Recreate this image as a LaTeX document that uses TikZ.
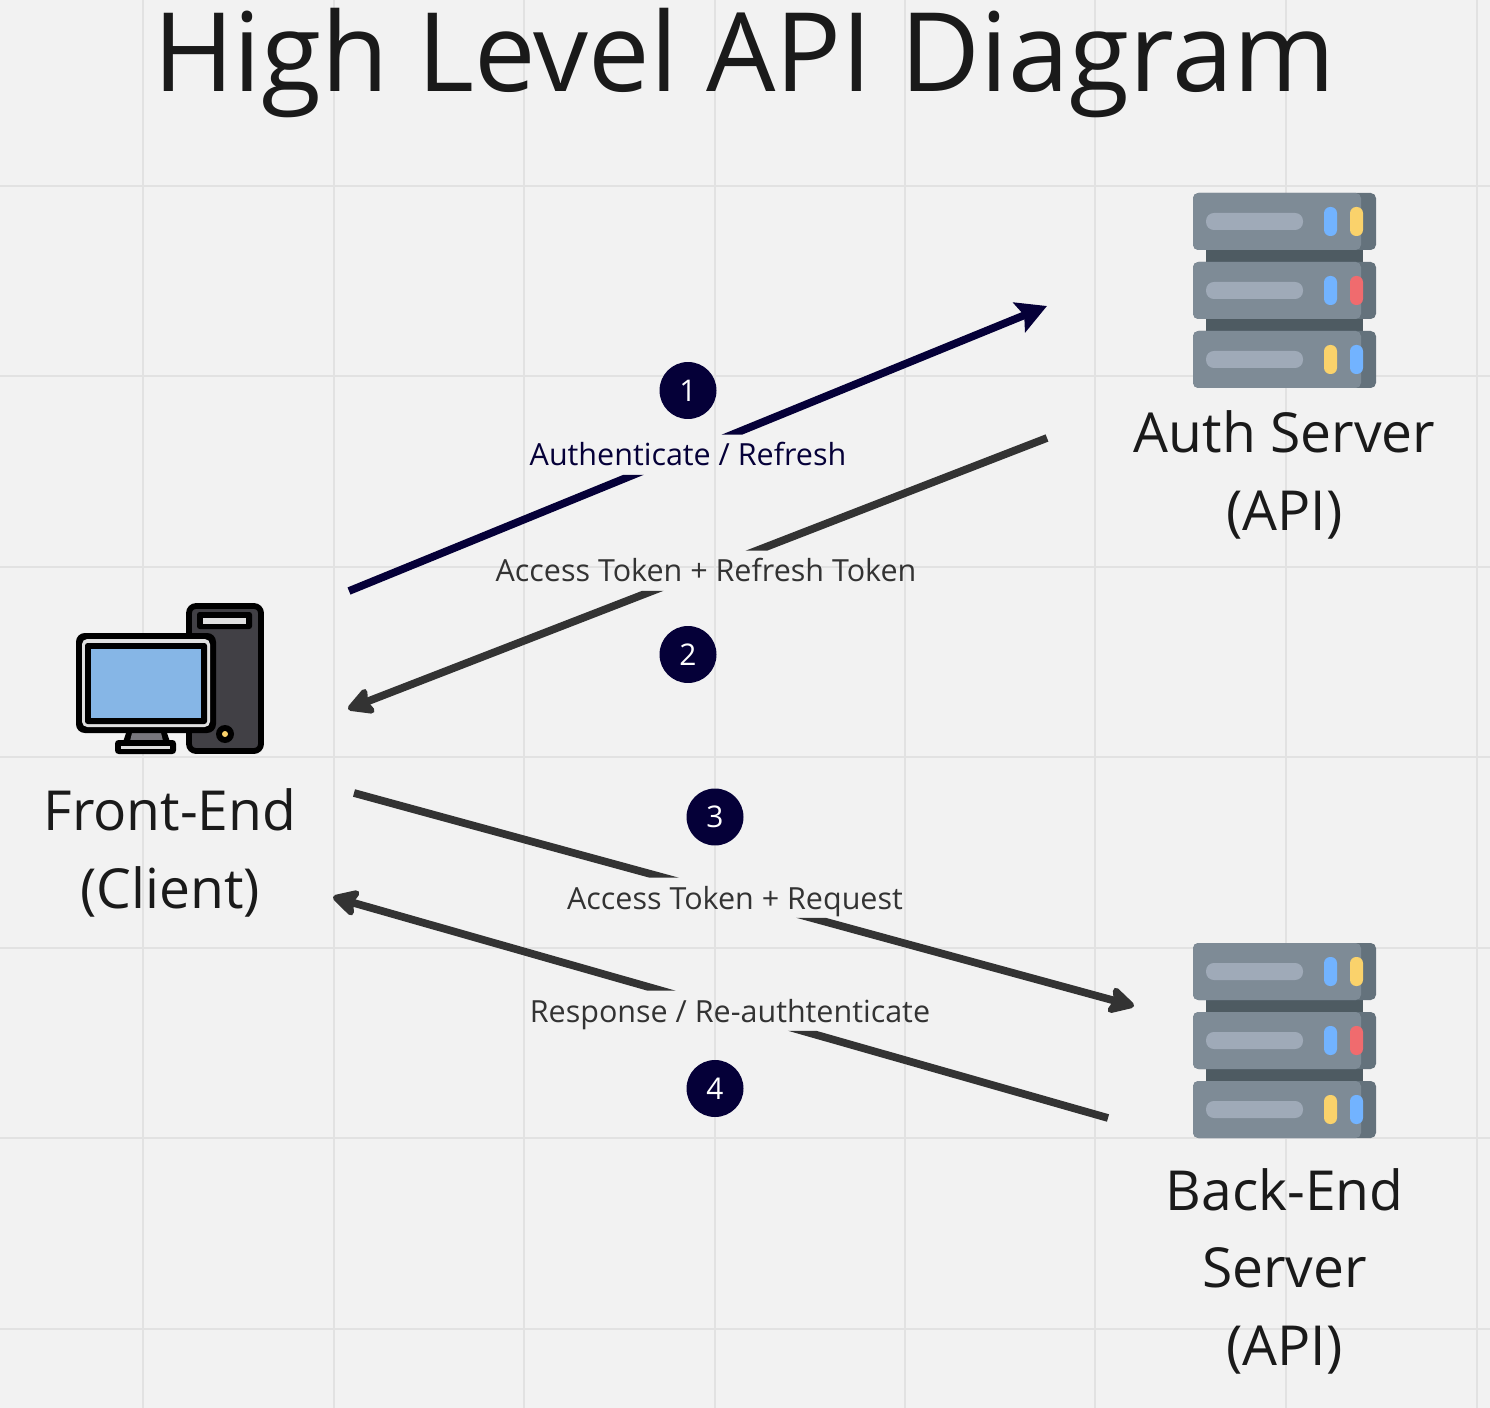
\documentclass[tikz,border=0pt]{standalone}
\usepackage{fontspec}
\setmainfont{Open Sans}
\usepackage{xcolor}
\usetikzlibrary{positioning,arrows.meta}
\definecolor{boardbg}{HTML}{F2F2F2}
\definecolor{gridline}{HTML}{E2E2E2}
\definecolor{navy}{HTML}{050038}
\definecolor{darkline}{HTML}{333333}
\definecolor{inktext}{HTML}{1A1A1A}
\definecolor{rackmain}{HTML}{7E8B96}
\definecolor{rackside}{HTML}{64727C}
\definecolor{racklink}{HTML}{4E5B62}
\definecolor{rackslot}{HTML}{9FAAB8}
\definecolor{ledblue}{HTML}{72B3FF}
\definecolor{ledyellow}{HTML}{FAD26B}
\definecolor{ledred}{HTML}{F06B6E}
\definecolor{towergrey}{HTML}{414045}
\definecolor{panelgrey}{HTML}{E0E0E0}
\definecolor{screenblue}{HTML}{86B6E6}
\definecolor{standgrey}{HTML}{77767C}
\newcommand{\rackunit}[3]{%
  \fill[rackside, rounded corners=3pt] (1193,#1) rectangle (1376,#1+57);
  \fill[rackmain, rounded corners=3pt] (1193,#1) rectangle (1361,#1+57);
  \fill[rackslot, rounded corners=4.5pt] (1206,#1+20) rectangle (1303,#1+37);
  \fill[#2, rounded corners=3.5pt] (1324,#1+14) rectangle (1337,#1+43);
  \fill[#3, rounded corners=3.5pt] (1350,#1+14) rectangle (1363,#1+43);
}
\newcommand{\serverstack}[1]{%
  \begin{scope}[yshift=#1*-0.02cm]
  \fill[racklink] (1206,250) rectangle (1363,262);
  \fill[racklink] (1206,319) rectangle (1363,331);
  \rackunit{193}{ledblue}{ledyellow}
  \rackunit{262}{ledblue}{ledred}
  \rackunit{331}{ledyellow}{ledblue}
  \end{scope}
}
\tikzset{
  arrowlabel/.style={anchor=base, inner sep=0pt, text height=17.6pt, text depth=4.8pt, font=\fontsize{17.35}{21}\selectfont},
  stepbadge/.style={circle, fill=navy, text=white, inner sep=0pt, minimum size=1.14cm, font=\fontsize{17}{20}\selectfont},
  iconlabel/.style={anchor=base, align=center, inner sep=0pt, text=inktext, font=\fontsize{31.4}{44.2}\selectfont},
  flowline/.style={line width=4.4pt, -{Stealth[length=17pt, width=18pt, inset=3pt]}},
  flowround/.style={line width=4.4pt, darkline, -{Stealth[length=17pt, width=18pt, inset=3pt, round]}},
}
\begin{document}
\begin{tikzpicture}[x=0.02cm, y=-0.02cm]
\useasboundingbox (0,0) rectangle (1490,1408);
\fill[boardbg] (0,0) rectangle (1490,1408);
\foreach \gx in {143,334,524,715,905,1095,1286,1477}
  \draw[gridline, line width=1.1pt] (\gx,0) -- (\gx,1408);
\foreach \gy in {186,376,567,757,948,1138,1329}
  \draw[gridline, line width=1.1pt] (0,\gy) -- (1490,\gy);

\node[anchor=base, inner sep=0pt, text=inktext, font=\fontsize{62.4}{70}\selectfont] (title) at (744,92) {High Level API Diagram};

% client computer
\draw[line width=3.3pt, fill=towergrey, rounded corners=4pt] (189,606) rectangle (261,751);
\fill[black, rounded corners=1.5pt] (197,612) rectangle (252,629);
\fill[panelgrey] (203,618) rectangle (246,624);
\fill[black] (225,734) circle (9);
\fill[ledyellow] (225,734) circle (3);
\fill[black] (127,730) -- (166,730) -- (171,745) -- (122,745) -- cycle;
\fill[standgrey] (132,733) -- (161,733) -- (163,741) -- (130,741) -- cycle;
\fill[black, rounded corners=2pt] (115,740) rectangle (176,754);
\fill[panelgrey] (121,746) rectangle (170,749);
\fill[black, rounded corners=5pt] (76,633) rectangle (216,733);
\fill[panelgrey, rounded corners=3pt] (82,639) rectangle (210,727);
\fill[black, rounded corners=1.5pt] (85,643) rectangle (207,724);
\fill[screenblue] (91,649) rectangle (201,718);

% servers
\serverstack{0}
\serverstack{750}

\node[iconlabel] (client) at (170,908.5) {Front-End\\(Client)};
\node[iconlabel] (auth) at (1284.5,530.5) {Auth Server\\(API)};
\node[iconlabel] (backend) at (1284.5,1365.5) {Back-End\\Server\\(API)};

\node[stepbadge] (one) at (688,390.5) {1};
\node[stepbadge] (two) at (688,654.5) {2};
\node[stepbadge] (three) at (715,817) {3};
\node[stepbadge] (four) at (715,1088.5) {4};

\node[arrowlabel, text=navy] (authlabel) at (688,466) {Authenticate / Refresh};
\node[arrowlabel, text=darkline] (tokenlabel) at (706,582) {Access Token + Refresh Token};
\node[arrowlabel, text=darkline] (requestlabel) at (735,909) {Access Token + Request};
\node[arrowlabel, text=darkline] (responselabel) at (730,1022) {Response / Re-authtenticate};

\coordinate (a1) at (349,591);
\coordinate (b1) at (1047,306);
\coordinate (a2) at (1047,438);
\coordinate (b2) at (348,709);
\coordinate (a3) at (354,793);
\coordinate (b3) at (1134,1006);
\coordinate (a4) at (1108,1118);
\coordinate (b4) at (333,897);

% lines stop at the label bands
\begin{scope}[even odd rule]
\clip (0,0) rectangle (1490,1408)
  (authlabel.south west) rectangle (authlabel.north east)
  (tokenlabel.south west) rectangle (tokenlabel.north east)
  (requestlabel.south west) rectangle (requestlabel.north east)
  (responselabel.south west) rectangle (responselabel.north east);
\draw[flowline, navy] (a1) -- (b1);
\draw[flowround] (a2) -- (b2);
\draw[flowround] (a3) -- (b3);
\draw[flowround] (a4) -- (b4);
\end{scope}
\end{tikzpicture}
\end{document}
